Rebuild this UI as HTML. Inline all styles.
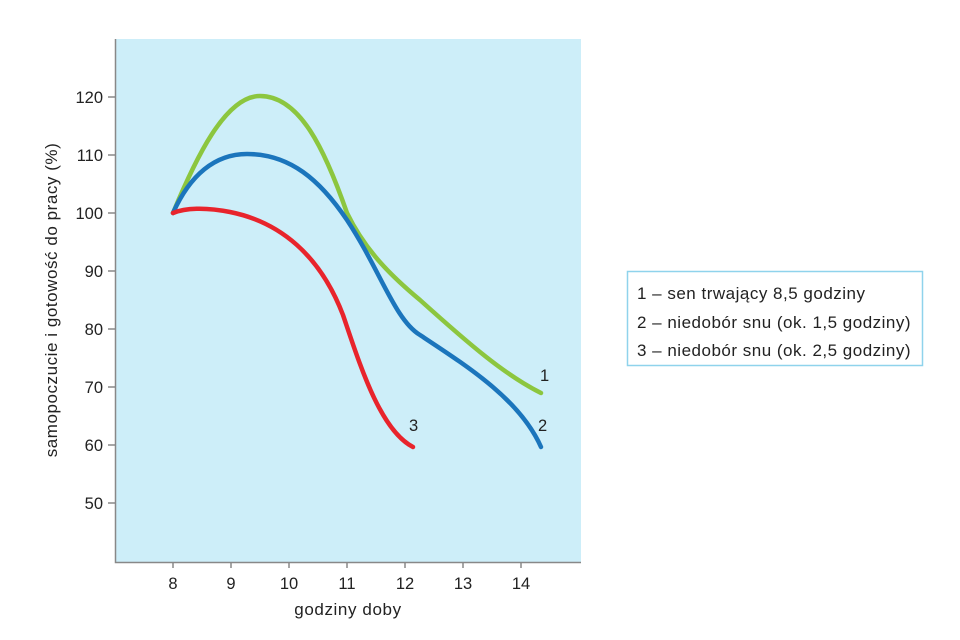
<!DOCTYPE html>
<html><head><meta charset="utf-8"><style>
body{margin:0;background:#fff;}
svg{display:block;font-family:"Liberation Sans",sans-serif;}
</style></head><body>
<svg width="960" height="640" viewBox="0 0 960 640">
<rect x="116" y="39" width="465" height="523" fill="#cdeef9"/>
<g stroke="#888" stroke-width="1.5" fill="none">
<path d="M115.5 39 V562.5 H581"/>
<path d="M108 97H115M108 155H115M108 213H115M108 271H115M108 329H115M108 387H115M108 445H115M108 503H115"/>
<path d="M173 562V568M231 562V568M289 562V568M347 562V568M405 562V568M463 562V568M521 562V568"/>
</g>
<g font-size="16.5" fill="#222" text-anchor="end">
<text x="103" y="103">120</text><text x="103" y="161">110</text><text x="103" y="219">100</text>
<text x="103" y="277">90</text><text x="103" y="335">80</text><text x="103" y="393">70</text>
<text x="103" y="451">60</text><text x="103" y="509">50</text>
</g>
<g font-size="16.5" fill="#222" text-anchor="middle">
<text x="173" y="589">8</text><text x="231" y="589">9</text><text x="289" y="589">10</text>
<text x="347" y="589">11</text><text x="405" y="589">12</text><text x="463" y="589">13</text><text x="521" y="589">14</text>
</g>
<text x="348" y="615" font-size="17" letter-spacing="0.6" fill="#222" text-anchor="middle">godziny doby</text>
<text transform="translate(57 300) rotate(-90)" font-size="17" letter-spacing="0.55" fill="#222" text-anchor="middle">samopoczucie i gotowość do pracy (%)</text>
<g fill="none" stroke-width="4.5" stroke-linecap="round">
<path stroke="#8cc63f" d="M173 213 C195 160 225 96 260 96 C300 96 325 150 347 213 C365 250 390 275 420 300 C470 345 505 375 541 393"/>
<path stroke="#1b75bc" d="M173 213 C190 175 215 154 247 154 C290 154 320 180 347 220 C380 270 395 320 420 335 C470 368 520 400 541 447"/>
<path stroke="#e8242c" d="M173 213 C185 208 205 207 230 212 C280 222 320 255 343 315 C360 365 380 430 413 447"/>
</g>
<g font-size="16.5" fill="#222">
<text x="540" y="381">1</text><text x="538" y="431">2</text><text x="409" y="431">3</text>
</g>
<rect x="627.5" y="271.5" width="295" height="94" fill="#fff" stroke="#8fd3ec" stroke-width="1.5"/>
<g font-size="17" letter-spacing="0.5" fill="#222">
<text x="637" y="299">1 – sen trwający 8,5 godziny</text>
<text x="637" y="328">2 – niedobór snu (ok. 1,5 godziny)</text>
<text x="637" y="356">3 – niedobór snu (ok. 2,5 godziny)</text>
</g>
</svg>
</body></html>
